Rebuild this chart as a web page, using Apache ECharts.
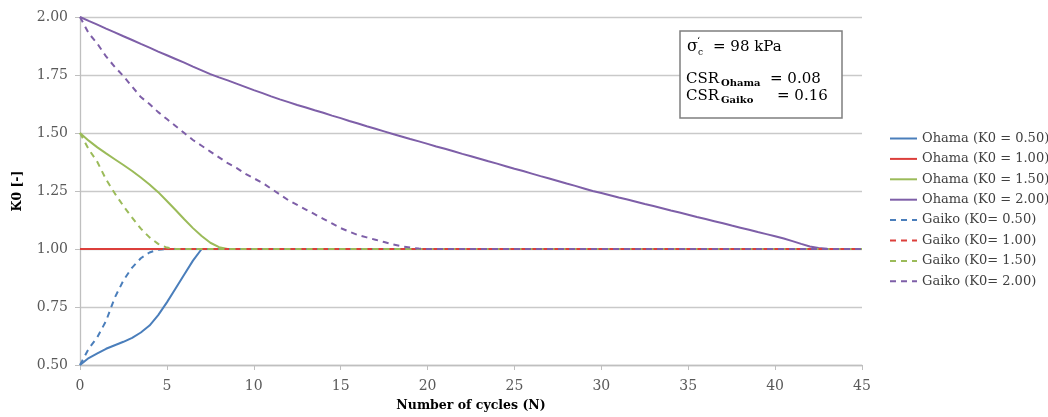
<!DOCTYPE html>
<html>
<head>
<meta charset="utf-8">
<script src="https://cdn.jsdelivr.net/npm/echarts@6/dist/echarts.min.js"></script>
<style>
html,body{margin:0;padding:0;background:#fff;}
#chart{width:1048px;height:417px;}
</style>
</head>
<body>
<div id="chart"></div>
<script>
// ---- data (K0 read at every half cycle until the curve settles at 1.00) ----
const cycleStep = 0.5;
const lastCycle = 45;
const xTicks = [0, 5, 10, 15, 20, 25, 30, 35, 40, 45];
const yTicks = [0.50, 0.75, 1.00, 1.25, 1.50, 1.75, 2.00];

const seriesNames = [
  'Ohama (K0 = 0.50)', 'Ohama (K0 = 1.00)', 'Ohama (K0 = 1.50)', 'Ohama (K0 = 2.00)',
  'Gaiko (K0= 0.50)', 'Gaiko (K0= 1.00)', 'Gaiko (K0= 1.50)', 'Gaiko (K0= 2.00)'
];

const ohama050 = [0.50, 0.53, 0.55, 0.57, 0.585, 0.60, 0.617, 0.64, 0.67, 0.715, 0.77, 0.83, 0.89, 0.95, 1.00];
const ohama100 = [1.00];
const ohama150 = [1.50, 1.467, 1.438, 1.412, 1.387, 1.362, 1.336, 1.308, 1.278, 1.245, 1.207, 1.168, 1.128, 1.09, 1.056, 1.027, 1.008, 1.00];
const ohama200 = [2.000, 1.983, 1.967, 1.950, 1.934, 1.917, 1.901, 1.884, 1.868, 1.851,
  1.835, 1.819, 1.803, 1.786, 1.770, 1.754, 1.740, 1.727, 1.713, 1.699,
  1.685, 1.672, 1.658, 1.645, 1.633, 1.621, 1.610, 1.598, 1.587, 1.575,
  1.564, 1.552, 1.541, 1.529, 1.518, 1.507, 1.496, 1.485, 1.474, 1.464,
  1.453, 1.442, 1.432, 1.421, 1.410, 1.400, 1.389, 1.378, 1.368, 1.357,
  1.346, 1.336, 1.325, 1.314, 1.304, 1.293, 1.282, 1.272, 1.261, 1.250,
  1.241, 1.232, 1.222, 1.213, 1.204, 1.194, 1.185, 1.176, 1.166, 1.157,
  1.148, 1.138, 1.129, 1.120, 1.111, 1.101, 1.092, 1.083, 1.073, 1.064,
  1.055, 1.045, 1.034, 1.022, 1.011, 1.004, 1.001, 1.000];
const gaiko050 = [0.50, 0.57, 0.62, 0.69, 0.79, 0.865, 0.92, 0.96, 0.985, 0.997, 1.00];
const gaiko100 = [1.00];
const gaiko150 = [1.50, 1.43, 1.375, 1.30, 1.24, 1.185, 1.135, 1.088, 1.05, 1.022, 1.006, 1.00];
const gaiko200 = [2.00, 1.93, 1.885, 1.83, 1.785, 1.745, 1.70, 1.655, 1.625, 1.59,
  1.56, 1.53, 1.50, 1.47, 1.445, 1.42, 1.395, 1.37, 1.35, 1.325,
  1.305, 1.285, 1.26, 1.235, 1.21, 1.19, 1.17, 1.15, 1.13, 1.11,
  1.09, 1.075, 1.06, 1.05, 1.04, 1.03, 1.02, 1.012, 1.006, 1.002, 1.00];
const tailValue = 1.00;

const allValues = [ohama050, ohama100, ohama150, ohama200, gaiko050, gaiko100, gaiko150, gaiko200];
const colors = ['#4a7ebb', '#dc3f3b', '#9bbb59', '#7e5fa8', '#4a7ebb', '#dc3f3b', '#9bbb59', '#7e5fa8'];

function toPoints(vals) {
  const pts = vals.map((v, i) => [i * cycleStep, v]);
  pts.push([lastCycle, tailValue]);
  return pts;
}

const serif = 'DejaVu Serif';

const series = allValues.map((vals, k) => ({
  name: seriesNames[k],
  type: 'line',
  data: toPoints(vals),
  symbol: 'none',
  showSymbol: false,
  lineStyle: {
    color: colors[k],
    width: 2,
    type: k < 4 ? 'solid' : [6, 5]
  },
  itemStyle: { color: colors[k] },
  z: 2 + k
}));

const chart = echarts.init(document.getElementById('chart'), null, { renderer: 'canvas' });
chart.setOption({
  animation: false,
  backgroundColor: '#ffffff',
  grid: { left: 80, right: 186, top: 17, bottom: 52, containLabel: false },
  xAxis: {
    type: 'value',
    min: xTicks[0], max: xTicks[xTicks.length - 1], interval: 5,
    name: 'Number of cycles (N)',
    nameLocation: 'middle',
    nameGap: 34,
    nameTextStyle: { fontFamily: serif, fontWeight: 'bold', fontSize: 12.5, color: '#000' },
    axisLine: { show: true, lineStyle: { color: '#bfbfbf', width: 1.3 } },
    axisTick: { show: true, length: 5, lineStyle: { color: '#bfbfbf' } },
    axisLabel: { fontFamily: serif, fontSize: 14, color: '#595959', margin: 14 },
    splitLine: { show: false }
  },
  yAxis: {
    type: 'value',
    min: yTicks[0], max: yTicks[yTicks.length - 1], interval: 0.25,
    name: 'K0 [-]',
    nameLocation: 'middle',
    nameGap: 56,
    nameTextStyle: { fontFamily: serif, fontWeight: 'bold', fontSize: 12.5, color: '#000' },
    axisLine: { show: true, lineStyle: { color: '#bfbfbf', width: 1.3 } },
    axisTick: { show: true, length: 5, lineStyle: { color: '#bfbfbf' } },
    axisLabel: { fontFamily: serif, fontSize: 14, color: '#595959', margin: 12,
      formatter: v => v.toFixed(2) },
    splitLine: { show: true, lineStyle: { color: '#c9c9c9', width: 1.3 } }
  },
  legend: {
    orient: 'vertical',
    left: 884, top: 127,
    itemWidth: 27, itemHeight: 14, itemGap: 7.4,
    itemStyle: { color: 'rgba(0,0,0,0)', borderColor: 'rgba(0,0,0,0)', borderWidth: 0 },
    textStyle: { fontFamily: serif, fontSize: 13, color: '#404040' },
    data: seriesNames
  },
  graphic: [
    { type: 'rect', shape: { x: 680, y: 31, width: 162, height: 87 },
      style: { fill: '#ffffff', stroke: '#7f7f7f', lineWidth: 1.5 }, z: 100 },
    { type: 'text', z: 101, style: { x: 687, y: 47, text: 'σ', font: '16px "DejaVu Serif"', fill: '#000', verticalAlign: 'middle' } },
    { type: 'text', z: 101, style: { x: 697, y: 41, text: '‘', font: '10px "DejaVu Serif"', fill: '#000', verticalAlign: 'middle' } },
    { type: 'text', z: 101, style: { x: 698, y: 53, text: 'c', font: '9px "DejaVu Serif"', fill: '#000', verticalAlign: 'middle' } },
    { type: 'text', z: 101, style: { x: 713, y: 47, text: '= 98 kPa', font: '15px "DejaVu Serif"', fill: '#000', verticalAlign: 'middle' } },
    { type: 'text', z: 101, style: { x: 686, y: 79, text: 'CSR', font: '15px "DejaVu Serif"', fill: '#000', verticalAlign: 'middle' } },
    { type: 'text', z: 101, style: { x: 721, y: 83, text: 'Ohama', font: 'bold 10px "DejaVu Serif"', fill: '#000', verticalAlign: 'middle' } },
    { type: 'text', z: 101, style: { x: 770, y: 79, text: '= 0.08', font: '15px "DejaVu Serif"', fill: '#000', verticalAlign: 'middle' } },
    { type: 'text', z: 101, style: { x: 686, y: 96, text: 'CSR', font: '15px "DejaVu Serif"', fill: '#000', verticalAlign: 'middle' } },
    { type: 'text', z: 101, style: { x: 721, y: 100, text: 'Gaiko', font: 'bold 10px "DejaVu Serif"', fill: '#000', verticalAlign: 'middle' } },
    { type: 'text', z: 101, style: { x: 777, y: 96, text: '= 0.16', font: '15px "DejaVu Serif"', fill: '#000', verticalAlign: 'middle' } }
  ],
  series: series
});
</script>
</body>
</html>
